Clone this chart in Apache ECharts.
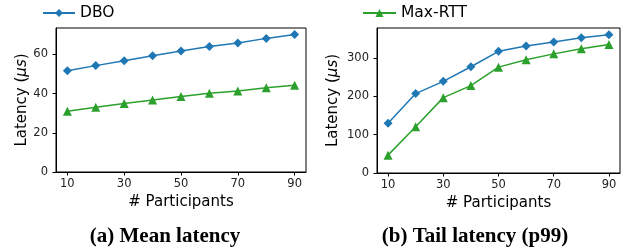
<!DOCTYPE html>
<html>
<head>
<meta charset="utf-8">
<script src="https://cdn.jsdelivr.net/npm/echarts@6/dist/echarts.min.js"></script>
<style>
  html, body { margin: 0; padding: 0; background: #fff; }
  #chart { width: 628px; height: 252px; }
</style>
</head>
<body>
<div id="chart"></div>
<script>
// participants on the x axis
const participants = [10, 20, 30, 40, 50, 60, 70, 80, 90];
const xTicks = [10, 30, 50, 70, 90];

// (a) mean latency, us
const meanDbo = [51.7, 54.3, 56.8, 59.3, 61.8, 64.0, 65.8, 68.2, 70.2];
const meanMaxRtt = [31.0, 33.0, 35.0, 36.7, 38.5, 40.2, 41.3, 43.0, 44.3];
const meanTicks = [0, 20, 40, 60];

// (b) tail latency p99, us
const tailDbo = [129.8, 207.6, 239.6, 277.7, 318, 332, 342.6, 353.7, 361.5];
const tailMaxRtt = [46.7, 121, 197, 228.4, 276.7, 296, 311.4, 325, 335.6];
const tailTicks = [0, 100, 200, 300];

const BLUE = '#1f77b4';
const GREEN = '#2ca02c';
const FONT = 'DejaVu Sans';

const pairs = (ys) => participants.map((x, i) => [x, ys[i]]);

const chart = echarts.init(document.getElementById('chart'), null, { renderer: 'canvas' });

const xAxisBase = (gridIndex) => ({
    type: 'value',
    gridIndex,
    min: 6,
    max: 94,
    name: '# Participants',
    nameLocation: 'middle',
    nameGap: 22,
    nameTextStyle: { fontFamily: FONT, fontSize: 15, color: '#000' },
    axisLine: { show: true, onZero: false, lineStyle: { color: '#000', width: 1 } },
    axisTick: { show: true, inside: false, length: 3.5, customValues: xTicks, lineStyle: { color: '#000' } },
    axisLabel: { customValues: xTicks, margin: 6, fontFamily: FONT, fontSize: 11.5, color: '#222' },
    splitLine: { show: false },
});

const yAxisBase = (gridIndex, max, ticks, gap) => ({
    type: 'value',
    gridIndex,
    min: 0,
    max,
    name: '{n|Latency (}{i|μs}{n|)}',
    nameLocation: 'middle',
    nameGap: gap,
    nameRotate: 90,
    nameTextStyle: {
        rich: {
            n: { fontFamily: FONT, fontSize: 15, color: '#000' },
            i: { fontFamily: FONT, fontSize: 15, fontStyle: 'italic', color: '#000' },
        },
    },
    axisLine: { show: true, lineStyle: { color: '#000', width: 1 } },
    axisTick: { show: true, inside: false, length: 3.5, customValues: ticks, lineStyle: { color: '#000' } },
    axisLabel: { customValues: ticks, margin: 8, fontFamily: FONT, fontSize: 11.5, color: '#222' },
    splitLine: { show: false },
});

const lineSeries = (name, xi, data, color, symbol, size) => ({
    name,
    type: 'line',
    xAxisIndex: xi,
    yAxisIndex: xi,
    data,
    symbol,
    symbolSize: size,
    showAllSymbol: true,
    lineStyle: { color, width: 1.5 },
    itemStyle: { color },
    animation: false,
});

const legendText = { fontFamily: FONT, fontSize: 15.5, color: '#000' };

const option = {
    backgroundColor: '#fff',
    animation: false,
    legend: [
        {
            data: ['DBO'],
            left: 37,
            top: 0,
            itemWidth: 32,
            itemHeight: 10,
            textStyle: legendText,
        },
        {
            data: ['Max-RTT'],
            left: 357,
            top: 0,
            itemWidth: 33,
            itemHeight: 10,
            textStyle: legendText,
        },
    ],
    title: [
        {
            text: '(a) Mean latency',
            left: 160,
            top: 221,
            textAlign: 'center',
            textStyle: { fontFamily: 'Liberation Serif', fontWeight: 'bold', fontSize: 21, color: '#000' },
        },
        {
            text: '(b) Tail latency (p99)',
            left: 470,
            top: 221,
            textAlign: 'center',
            textStyle: { fontFamily: 'Liberation Serif', fontWeight: 'bold', fontSize: 21, color: '#000' },
        },
    ],
    grid: [
        { left: 56, right: 322, top: 28, bottom: 80, show: true, borderColor: '#000', borderWidth: 1 },
        { left: 377, right: 8, top: 28, bottom: 79, show: true, borderColor: '#000', borderWidth: 1 },
    ],
    xAxis: [xAxisBase(0), xAxisBase(1)],
    yAxis: [yAxisBase(0, 73.5, meanTicks, 26.5), yAxisBase(1, 379, tailTicks, 36.5)],
    series: [
        lineSeries('DBO', 0, pairs(meanDbo), BLUE, 'diamond', 9),
        lineSeries('Max-RTT', 0, pairs(meanMaxRtt), GREEN, 'triangle', 9),
        lineSeries('DBO', 1, pairs(tailDbo), BLUE, 'diamond', 9),
        lineSeries('Max-RTT', 1, pairs(tailMaxRtt), GREEN, 'triangle', 9),
    ],
};

chart.setOption(option);
window.addEventListener('resize', () => chart.resize());
</script>
</body>
</html>
